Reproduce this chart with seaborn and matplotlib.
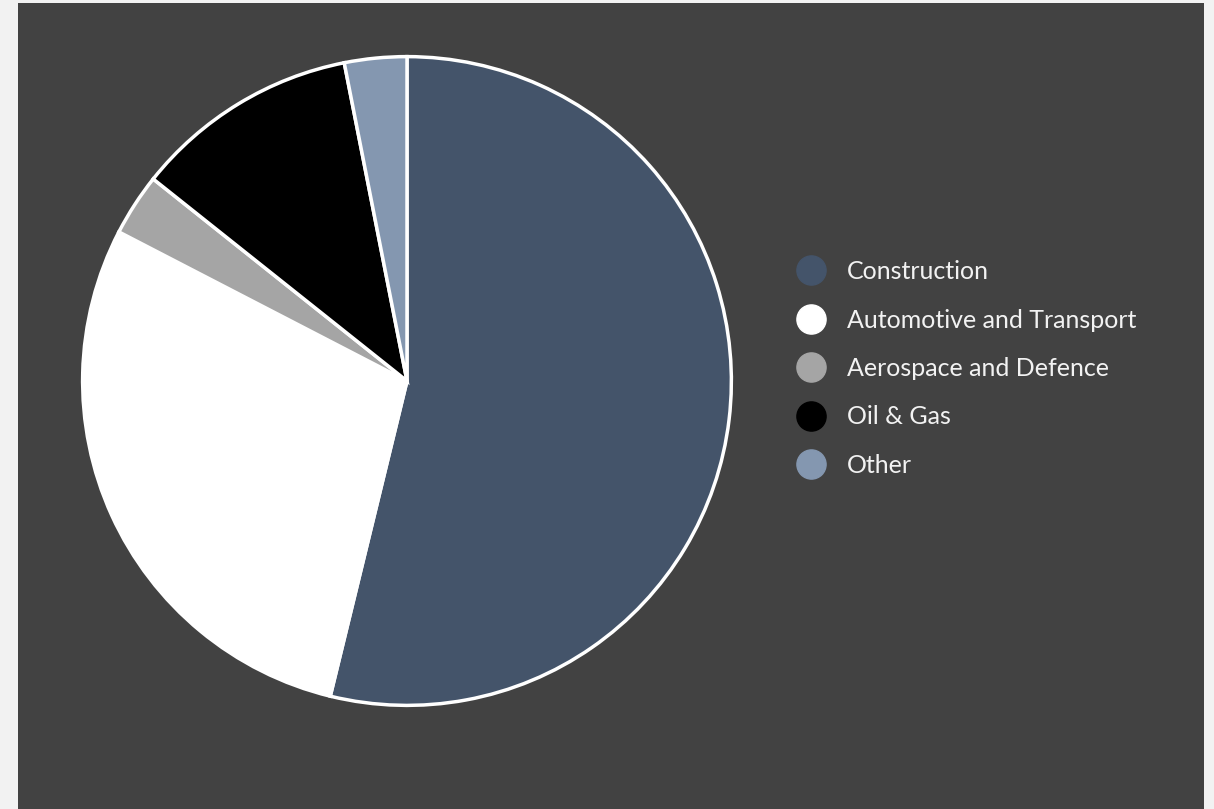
import matplotlib
matplotlib.use("Agg")
import matplotlib.pyplot as plt
from matplotlib.lines import Line2D
import seaborn as sns

categories = ["Construction", "Automotive and Transport", "Aerospace and Defence", "Oil & Gas", "Other"]
shares = [53.8, 28.8, 3.1, 11.2, 3.1]
colors = ["#44546a", "#ffffff", "#a5a5a5", "#000000", "#8497b0"]

sns.set_theme(style="white")
plt.rcParams["font.family"] = ["Lato", "DejaVu Sans"]

W, H = 1214, 809
fig = plt.figure(figsize=(W / 100, H / 100), dpi=100, facecolor="#f2f2f2")

bg = fig.add_axes([18 / W, 0, 1186 / W, 806 / H])
bg.set_facecolor("#424242")
bg.set_xticks([]); bg.set_yticks([])
for s in bg.spines.values():
    s.set_visible(False)

cx, cy, r = 407, 381, 326
ax = fig.add_axes([(cx - r) / W, (H - cy - r) / H, 2 * r / W, 2 * r / H])
ax.set_facecolor("none")
ax.pie(shares, colors=sns.color_palette(colors), startangle=90, counterclock=False,
       wedgeprops=dict(edgecolor="white", linewidth=2.5), radius=1.0)
ax.set_xlim(-1.005, 1.005); ax.set_ylim(-1.005, 1.005)
ax.set_aspect("equal")
ax.axis("off")

handles = [Line2D([0], [0], marker="o", linestyle="none", markersize=21,
                  markerfacecolor=c, markeredgecolor=c) for c in colors]
leg = fig.legend(handles, categories, loc="upper left",
                 bbox_to_anchor=(784 / W, 1 - 250 / H), frameon=False,
                 fontsize=18, labelspacing=1.02, handletextpad=0.72,
                 borderaxespad=0, handlelength=1.4)
for t in leg.get_texts():
    t.set_color("#f2f2f2")

fig.savefig("out.png", dpi=100, facecolor=fig.get_facecolor())
